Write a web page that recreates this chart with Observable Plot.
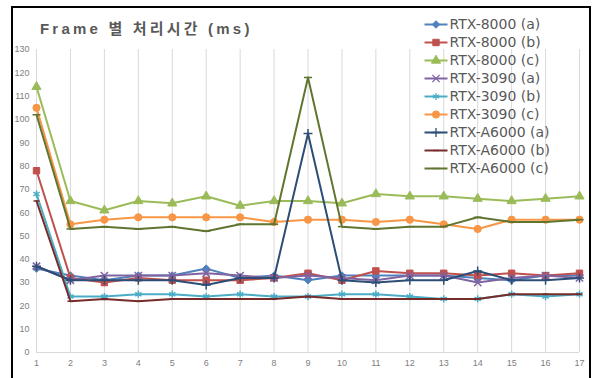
<!DOCTYPE html>
<html><head><meta charset="utf-8">
<script src="https://cdn.jsdelivr.net/npm/d3@7"></script>
<script src="https://cdn.jsdelivr.net/npm/@observablehq/plot@0.6"></script>
<style>
body{margin:0;background:#fff;}
#wrap{position:relative;width:595px;height:378px;overflow:hidden;background:#fff;}
#chart{position:absolute;left:0;top:0;}
#legend{position:absolute;left:420px;top:14px;}
#frame{position:absolute;left:11px;top:6px;width:580px;height:390px;border:2px solid #000;box-sizing:border-box;pointer-events:none;}
#title{position:absolute;left:40px;top:17px;font:bold 15px "Liberation Sans","Noto Sans CJK KR",sans-serif;letter-spacing:3.2px;color:#595959;white-space:nowrap;}
</style></head><body>
<div id="wrap"><div id="chart"></div><div id="legend"></div><div id="frame"></div><div id="title">Frame 별 처리시간 (ms)</div></div>
<script>
const frames = [1,2,3,4,5,6,7,8,9,10,11,12,13,14,15,16,17];
const yTicks = [0,10,20,30,40,50,60,70,80,90,100,110,120,130];
const seriesNames = ["RTX-8000 (a)","RTX-8000 (b)","RTX-8000 (c)","RTX-3090 (a)","RTX-3090 (b)","RTX-3090 (c)","RTX-A6000 (a)","RTX-A6000 (b)","RTX-A6000 (c)"];
const rtx8000a = [36,33,31,33,33,36,32,33,31,33,33,33,33,32,31,33,33];
const rtx8000b = [78,32,30,32,31,31,31,32,34,31,35,34,34,33,34,33,34];
const rtx8000c = [114,65,61,65,64,67,63,65,65,64,68,67,67,66,65,66,67];
const rtx3090a = [37,31,33,33,33,34,33,32,33,32,31,33,33,30,32,33,32];
const rtx3090b = [68,24,24,25,25,24,25,24,24,25,25,24,23,23,25,24,25];
const rtx3090c = [105,55,57,58,58,58,58,56,57,57,56,57,55,53,57,57,57];
const a6000a = [37,31,31,31,31,29,32,32,94,31,30,31,31,35,31,31,32];
const a6000b = [65,22,23,22,23,23,23,23,24,23,23,23,23,23,25,25,25];
const a6000c = [102,53,54,53,54,52,55,55,118,54,53,54,54,58,56,56,57];
const seriesValues = [rtx8000a,rtx8000b,rtx8000c,rtx3090a,rtx3090b,rtx3090c,a6000a,a6000b,a6000c];
const colors = ["#4F81BD","#C0504D","#9BBB59","#8064A2","#4BACC6","#F79646","#2C4D75","#772C2A","#5F7530"];

const dash = w => ({draw(ctx){ ctx.moveTo(-w,0); ctx.lineTo(w,0); }});
const markers = [
  {symbol:"diamond2", r:3.4, filled:true},
  {symbol:"square", r:3.6, filled:true},
  {symbol:"triangle", r:3.4, filled:true},
  {symbol:"times", r:3.4, filled:false},
  {symbol:"asterisk", r:3.4, filled:false},
  {symbol:"circle", r:3.6, filled:true},
  {symbol:"plus", r:3.0, filled:false},
  {symbol:dash(3), r:3, filled:false},
  {symbol:dash(4), r:3, filled:false}
];

const rows = seriesNames.map((name,s)=>frames.map((f,i)=>({frame:f, value:seriesValues[s][i], name})));

const marks = [
  Plot.ruleX(frames, {stroke:"#d9d9d9", strokeWidth:1}),
  Plot.ruleY([0], {stroke:"#d9d9d9", strokeWidth:1}),
  Plot.axisY({ticks:yTicks, tickSize:0, tickPadding:7, label:null, fontSize:9}),
  Plot.axisX({ticks:frames, tickSize:0, tickPadding:7, label:null, fontSize:9})
];
seriesNames.forEach((name,s)=>{
  const m = markers[s];
  marks.push(Plot.line(rows[s], {x:"frame", y:"value", stroke:colors[s], strokeWidth:2}));
  marks.push(Plot.dot(rows[s], {x:"frame", y:"value", symbol:m.symbol, r:m.r,
    fill: m.filled ? colors[s] : "none", stroke:colors[s], strokeWidth: m.filled ? 1 : 1.5}));
});

const chart = Plot.plot({
  width:595, height:378,
  marginLeft:36, marginRight:16, marginTop:49, marginBottom:26,
  x:{domain:[1,17]},
  y:{domain:[0,130]},
  style:{fontFamily:"Liberation Sans, sans-serif", fontSize:"9px", color:"#808080", background:"transparent"},
  marks
});
document.getElementById("chart").appendChild(chart);

const legMarks = [];
seriesNames.forEach((name,s)=>{
  const m = markers[s];
  legMarks.push(Plot.link([name], {x1:()=>0, x2:()=>1, y1:d=>d, y2:d=>d, stroke:colors[s], strokeWidth:2}));
  legMarks.push(Plot.dot([name], {x:()=>0.5, y:d=>d, symbol:m.symbol, r:m.r,
    fill: m.filled ? colors[s] : "none", stroke:colors[s], strokeWidth: m.filled ? 1 : 1.3}));
});
legMarks.push(Plot.text(seriesNames, {x:()=>1, y:d=>d, text:d=>d, textAnchor:"start", dx:2, fill:"#595959", fontSize:14}));
const legend = Plot.plot({
  width:172, height:172,
  margin:0,
  x:{domain:[0,1], range:[4,27], axis:null},
  y:{type:"point", domain:seriesNames, range:[10,154], padding:0, axis:null},
  style:{fontFamily:"DejaVu Sans, sans-serif", background:"transparent"},
  marks: legMarks
});
document.getElementById("legend").appendChild(legend);
</script>
</body></html>
